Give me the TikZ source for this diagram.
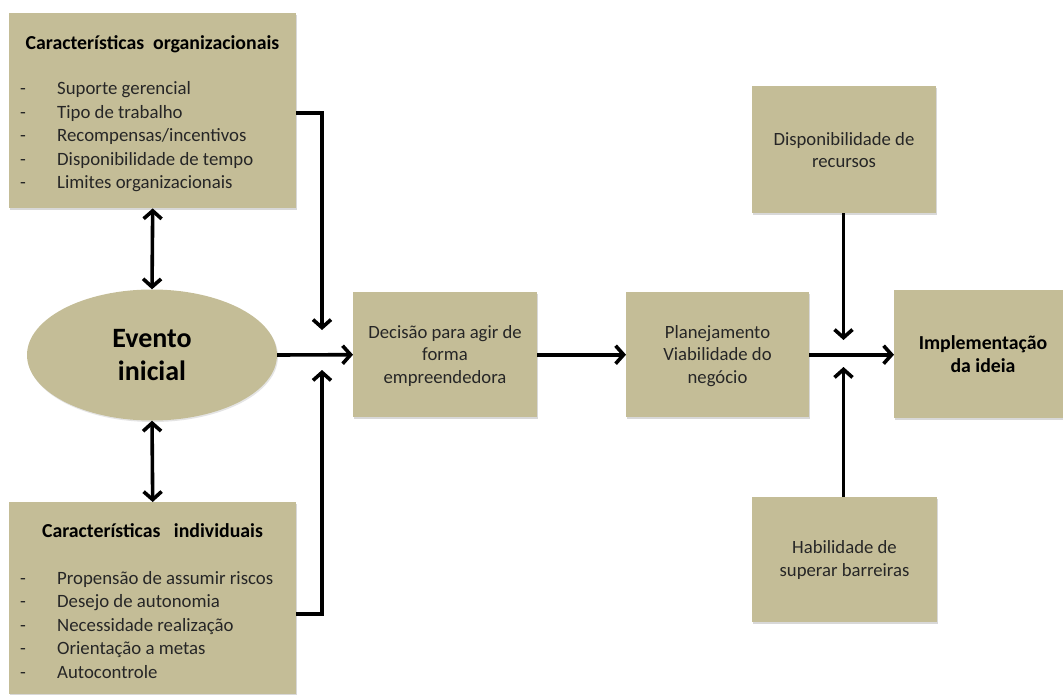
\documentclass[tikz,border=0pt]{standalone}
\usepackage{fontspec}
\setmainfont{Carlito}
\usetikzlibrary{arrows.meta,shapes.geometric,shadows}
\definecolor{tanfill}{HTML}{C4BD97}
\definecolor{txt}{HTML}{262626}
\begin{document}
\begin{tikzpicture}[x=1pt,y=-1pt,
  box/.style={rectangle, fill=tanfill, draw=none, inner sep=0pt, anchor=north west,
    drop shadow={shadow xshift=1.2pt, shadow yshift=-1.8pt, opacity=0.22, fill=black!70}},
  ell/.style={ellipse, fill=tanfill, draw=none, inner sep=0pt,
    drop shadow={shadow xshift=1pt, shadow yshift=-1.5pt, opacity=0.15, fill=black!70}},
  arr/.style={line width=3.6pt, -{Straight Barb[length=8pt,width=18pt]}},
  darr/.style={line width=3.6pt, {Straight Barb[length=8pt,width=18pt]}-{Straight Barb[length=8pt,width=18pt]}},
  ttl/.style={font=\fontsize{19.8}{23}\selectfont\bfseries, text=black, inner sep=0pt},
  lst/.style={font=\fontsize{18.8}{23.5}\selectfont, text=txt, inner sep=0pt, anchor=base west},
  btxt/.style={font=\fontsize{18.7}{22.5}\selectfont, text=txt, align=center, inner sep=0pt},
  bold/.style={font=\fontsize{19.8}{23}\selectfont\bfseries, text=black, align=center, inner sep=0pt}
]
\useasboundingbox (0,0) rectangle (1063,695);

% boxes
\node[box, minimum width=287pt, minimum height=195pt] (org) at (9,13) {};
\node[box, minimum width=287pt, minimum height=192pt] (ind) at (9,502) {};
\node[ell, minimum width=250pt, minimum height=131pt] (ev) at (152,355) {};
\node[box, minimum width=184pt, minimum height=125pt] (dec) at (353,292) {};
\node[box, minimum width=183pt, minimum height=125pt] (plan) at (626,292) {};
\node[box, minimum width=180pt, minimum height=128pt] (impl) at (894,290) {};
\node[box, minimum width=184pt, minimum height=127pt] (disp) at (752,86) {};
\node[box, minimum width=185pt, minimum height=125pt] (hab) at (752,497) {};

% texts
\node[ttl] (orgt) at (152.5,44) {Características\ \ organizacionais};
\node[lst] (orgl) at (20,95) {\begin{tabular}[t]{@{}p{37pt}@{}l@{}}
- & Suporte gerencial\\
- & Tipo de trabalho\\
- & Recompensas/incentivos\\
- & Disponibilidade de tempo\\
- & Limites organizacionais
\end{tabular}};
\node[ttl] (indt) at (152.5,531) {Características\ \ \ individuais};
\node[lst] (indl) at (20,584) {\begin{tabular}[t]{@{}p{37pt}@{}l@{}}
- & Propensão de assumir riscos\\
- & Desejo de autonomia\\
- & Necessidade realização\\
- & Orientação a metas\\
- & Autocontrole
\end{tabular}};
\node[font=\fontsize{28}{33}\selectfont\bfseries, text=black, align=center, inner sep=0pt] (evt) at (152,355) {Evento\\inicial};
\node[btxt] (dect) at (445,356) {Decisão para agir de\\forma\\empreendedora};
\node[btxt] (plant) at (717.5,356) {Planejamento\\Viabilidade do\\negócio};
\node[bold] (implt) at (983,354.5) {Implementação\\da ideia};
\node[btxt] (dispt) at (844,150) {Disponibilidade de\\recursos};
\node[btxt] (habt) at (844.5,560) {Habilidade de\\superar barreiras};

% connector points
\coordinate (j1) at (322,330);
\coordinate (j2) at (322,370);
\coordinate (k1) at (843.5,340);
\coordinate (k2) at (843.5,367);

% connectors
\draw[darr] (org.south) -- (ev.north);
\draw[darr] (ev.south) -- (ind.north);
\draw[arr] ([yshift=-2.5pt]org.east) -| (j1);
\draw[arr] ([yshift=-16pt]ind.east) -| (j2);
\draw[arr] (ev.east) -- (dec.west);
\draw[arr] (dec.east) -- (plan.west);
\draw[arr] (plan.east) -- (plan.east -| impl.west);
\draw[arr] (disp.south -| k1) -- (k1);
\draw[arr] (hab.north -| k2) -- (k2);
\end{tikzpicture}
\end{document}
